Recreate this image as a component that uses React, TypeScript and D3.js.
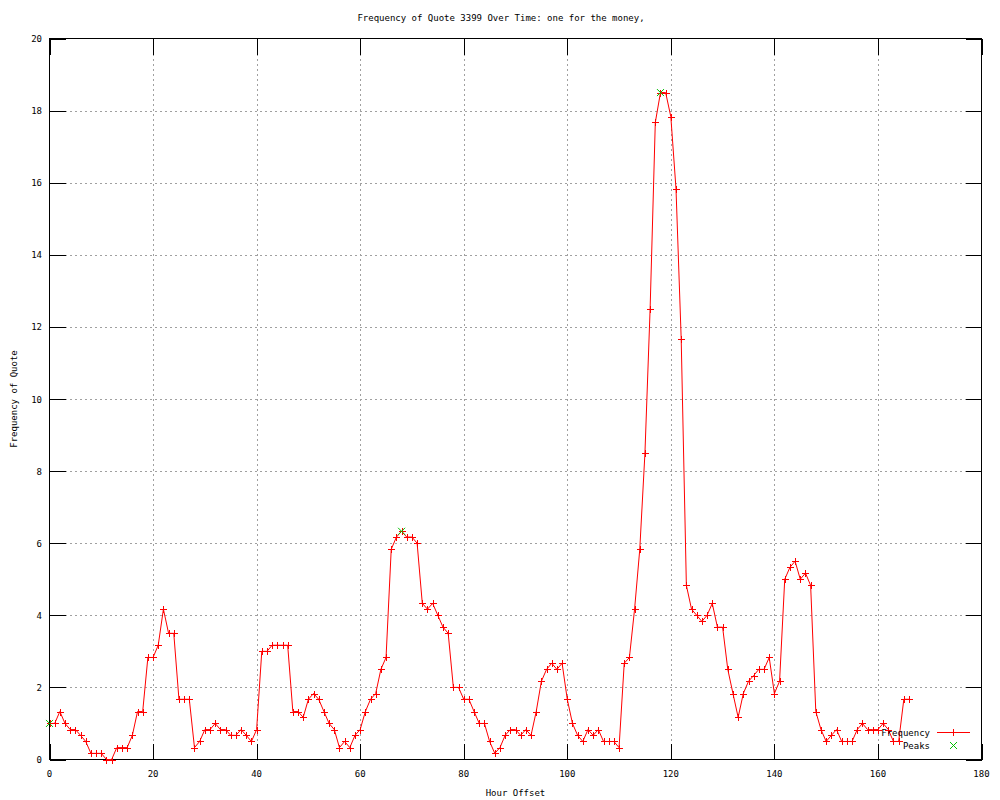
import React from "react";
import * as d3 from "d3";

const hours: number[] = Array.from({ length: 167 }, (_, i) => i);
const frequency: number[] = [
  1, 1, 1.33, 1, 0.83, 0.83, 0.67, 0.5, 0.17, 0.17,
  0.17, 0, 0, 0.33, 0.33, 0.33, 0.67, 1.33, 1.33, 2.83,
  2.83, 3.17, 4.17, 3.5, 3.5, 1.67, 1.67, 1.67, 0.33, 0.5,
  0.83, 0.83, 1, 0.83, 0.83, 0.67, 0.67, 0.83, 0.67, 0.5,
  0.83, 3, 3, 3.17, 3.17, 3.17, 3.17, 1.33, 1.33, 1.17,
  1.67, 1.83, 1.67, 1.33, 1, 0.83, 0.33, 0.5, 0.33, 0.67,
  0.83, 1.33, 1.67, 1.83, 2.5, 2.83, 5.83, 6.17, 6.33, 6.17,
  6.17, 6, 4.33, 4.17, 4.33, 4, 3.67, 3.5, 2, 2,
  1.67, 1.67, 1.33, 1, 1, 0.5, 0.17, 0.33, 0.67, 0.83,
  0.83, 0.67, 0.83, 0.67, 1.33, 2.17, 2.5, 2.67, 2.5, 2.67,
  1.67, 1, 0.67, 0.5, 0.83, 0.67, 0.83, 0.5, 0.5, 0.5,
  0.33, 2.67, 2.83, 4.17, 5.83, 8.5, 12.5, 17.67, 18.5, 18.5,
  17.83, 15.83, 11.67, 4.83, 4.17, 4, 3.83, 4, 4.33, 3.67,
  3.67, 2.5, 1.83, 1.17, 1.83, 2.17, 2.33, 2.5, 2.5, 2.83,
  1.83, 2.17, 5, 5.33, 5.5, 5, 5.17, 4.83, 1.33, 0.83,
  0.5, 0.67, 0.83, 0.5, 0.5, 0.5, 0.83, 1, 0.83, 0.83,
  0.83, 1, 0.83, 0.5, 0.5, 1.67, 1.67,
];
const peakHours: number[] = [0, 68, 118];
const peakValues: number[] = [1, 6.33, 18.5];
const xTicks: number[] = [0, 20, 40, 60, 80, 100, 120, 140, 160, 180];
const yTicks: number[] = [0, 2, 4, 6, 8, 10, 12, 14, 16, 18, 20];

const title = "Frequency of Quote 3399 Over Time: one for the money,";
const xLabel = "Hour Offset";
const yLabel = "Frequency of Quote";
const seriesNames = ["Frequency", "Peaks"];

const W = 1000;
const H = 800;
const L = 49.5, R = 981.5, T = 38.5, B = 759.5;
const FONT = "'DejaVu Sans Mono', monospace";
const RED = "#ff0000";
const GREEN = "#00c000";

export default function App() {
  const x = d3.scaleLinear().domain([0, 180]).range([L, R]);
  const y = d3.scaleLinear().domain([0, 20]).range([B, T]);
  const pts = hours.map((h, i) => [h, frequency[i]] as [number, number]);
  const line = d3
    .line<[number, number]>()
    .x((d) => x(d[0]))
    .y((d) => y(d[1]));
  const tick = 16;
  const m = 3.5;
  const plus = (cx: number, cy: number, key: string, color: string) => (
    <path
      key={key}
      d={`M${cx - m},${cy}H${cx + m}M${cx},${cy - m}V${cy + m}`}
      stroke={color}
      strokeWidth={1}
      fill="none"
    />
  );
  const cross = (cx: number, cy: number, key: string, color: string) => (
    <path
      key={key}
      d={`M${cx - m},${cy - m}L${cx + m},${cy + m}M${cx - m},${cy + m}L${cx + m},${cy - m}`}
      stroke={color}
      strokeWidth={1}
      fill="none"
    />
  );
  return (
    <svg
      width={W}
      height={H}
      style={{ position: "absolute", left: 0, top: 0, background: "#fff" }}
      fontFamily={FONT}
      fontSize={9}
    >
      <rect x={0} y={0} width={W} height={H} fill="#fff" />
      {/* grid */}
      <g stroke="#a0a0a0" strokeWidth={1} strokeDasharray="2,3" shapeRendering="crispEdges">
        {xTicks.slice(1, -1).map((t) => (
          <line key={"gx" + t} x1={Math.round(x(t)) + 0.5} x2={Math.round(x(t)) + 0.5} y1={T} y2={B} />
        ))}
        {yTicks.slice(1, -1).map((t) => (
          <line key={"gy" + t} x1={L} x2={R} y1={Math.round(y(t)) + 0.5} y2={Math.round(y(t)) + 0.5} />
        ))}
      </g>
      {/* ticks */}
      <g stroke="#000" strokeWidth={1} shapeRendering="crispEdges">
        {xTicks.map((t) => {
          const px = Math.round(x(t)) + 0.5;
          return (
            <g key={"tx" + t}>
              <line x1={px} x2={px} y1={B} y2={B - tick} />
              <line x1={px} x2={px} y1={T} y2={T + tick} />
            </g>
          );
        })}
        {yTicks.map((t) => {
          const py = Math.round(y(t)) + 0.5;
          return (
            <g key={"ty" + t}>
              <line x1={L} x2={L + tick} y1={py} y2={py} />
              <line x1={R} x2={R - tick} y1={py} y2={py} />
            </g>
          );
        })}
        <rect x={L} y={T} width={R - L} height={B - T} fill="none" />
      </g>
      {/* tick labels */}
      <g fill="#000">
        {xTicks.map((t) => (
          <text key={"lx" + t} x={x(t)} y={777} textAnchor="middle">
            {t}
          </text>
        ))}
        {yTicks.map((t) => (
          <text key={"ly" + t} x={42} y={y(t) + 3.5} textAnchor="end">
            {t}
          </text>
        ))}
        <text x={501} y={21} textAnchor="middle">{title}</text>
        <text x={(L + R) / 2} y={796} textAnchor="middle">{xLabel}</text>
        <text
          transform={`translate(17,${(T + B) / 2}) rotate(-90)`}
          textAnchor="middle"
        >
          {yLabel}
        </text>
      </g>
      {/* series */}
      <path d={line(pts) || ""} stroke={RED} strokeWidth={1} fill="none" />
      <g shapeRendering="crispEdges">
        {pts.map((d, i) => plus(Math.round(x(d[0])) + 0.5, Math.round(y(d[1])) + 0.5, "p" + i, RED))}
      </g>
      <g>
        {peakHours.map((h, i) => cross(x(h), y(peakValues[i]), "k" + i, GREEN))}
      </g>
      {/* legend */}
      <g>
        <text x={930} y={736} textAnchor="end">{seriesNames[0]}</text>
        <line x1={937} x2={970} y1={732.5} y2={732.5} stroke={RED} shapeRendering="crispEdges" />
        {plus(953.5, 732.5, "lp", RED)}
        <text x={930} y={749} textAnchor="end">{seriesNames[1]}</text>
        {cross(953.5, 745.5, "lc", GREEN)}
      </g>
    </svg>
  );
}
